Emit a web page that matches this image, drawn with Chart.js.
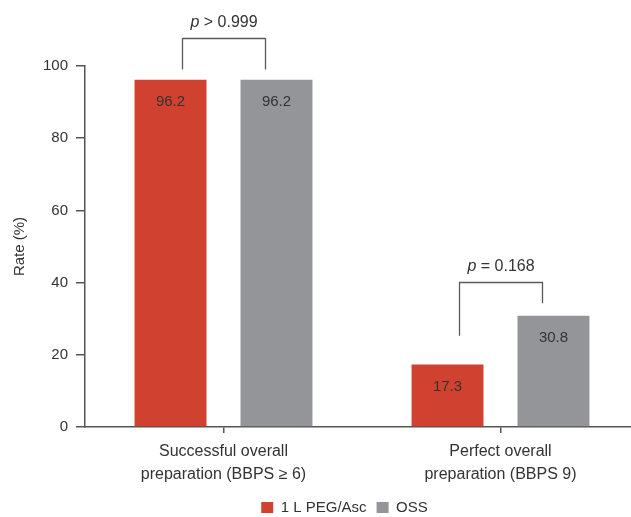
<!DOCTYPE html>
<html>
<head>
<meta charset="utf-8">
<script src="https://cdn.jsdelivr.net/npm/chart.js@4/dist/chart.umd.min.js"></script>
<style>
  html, body { margin: 0; padding: 0; background: #fff; overflow: hidden; }
  #wrap { width: 631px; height: 517px; overflow: hidden; }
  #wrap canvas { display: block; }
</style>
</head>
<body>
<div id="wrap"><canvas id="c" width="640" height="517"></canvas></div>
<script>
// ---- data ----
const categories = [
  ['Successful overall', 'preparation (BBPS \u2265 6)'],
  ['Perfect overall', 'preparation (BBPS 9)']
];
const seriesNames = ['1 L PEG/Asc', 'OSS'];
const pegAscValues = [96.2, 17.3];
const ossValues = [96.2, 30.8];
const yTicks = [0, 20, 40, 60, 80, 100];
const pPrefix = ['p', 'p'];
const pRest = [' > 0.999', ' = 0.168'];
// bracket levels (in rate units)
const bracketTop = [107.8, 40.2];
const bracketLeftEnd = [99.0, 25.3];
const bracketRightEnd = [99.0, 34.3];

const RED = '#D0422F';
const GRAY = '#939598';
const AXIS = '#555555';
const TEXT = '#333333';
const FONT = "'Liberation Sans', Arial, sans-serif";

const valueLabels = {
  id: 'valueLabels',
  afterDatasetsDraw(chart) {
    const ctx = chart.ctx;
    ctx.save();
    ctx.font = '15px ' + FONT;
    ctx.fillStyle = TEXT;
    ctx.textAlign = 'center';
    ctx.textBaseline = 'middle';
    chart.data.datasets.forEach((ds, di) => {
      chart.getDatasetMeta(di).data.forEach((bar, i) => {
        ctx.fillText(ds.data[i].toFixed(1), bar.x, bar.y + 22);
      });
    });
    ctx.restore();
  }
};

const brackets = {
  id: 'brackets',
  afterDraw(chart) {
    const ctx = chart.ctx;
    const ys = chart.scales.y;
    const m0 = chart.getDatasetMeta(0).data;
    const m1 = chart.getDatasetMeta(1).data;
    ctx.save();
    ctx.strokeStyle = '#5a5a5a';
    ctx.lineWidth = 1.3;
    categories.forEach((c, i) => {
      const xl = Math.round(m0[i].x + 11) + 0.5;
      const xr = Math.round(m1[i].x - 11) + 0.5;
      const yt = Math.round(ys.getPixelForValue(bracketTop[i])) + 0.5;
      ctx.beginPath();
      ctx.moveTo(xl, ys.getPixelForValue(bracketLeftEnd[i]));
      ctx.lineTo(xl, yt);
      ctx.lineTo(xr, yt);
      ctx.lineTo(xr, ys.getPixelForValue(bracketRightEnd[i]));
      ctx.stroke();
      // p-value text
      const cx = (xl + xr) / 2;
      const ty = yt - 16;
      ctx.textBaseline = 'middle';
      ctx.fillStyle = TEXT;
      const fItal = 'italic 16px ' + FONT;
      const fNorm = '16px ' + FONT;
      ctx.font = fItal;
      const w1 = ctx.measureText(pPrefix[i]).width;
      ctx.font = fNorm;
      const w2 = ctx.measureText(pRest[i]).width;
      const sx = cx - (w1 + w2) / 2;
      ctx.textAlign = 'left';
      ctx.font = fItal;
      ctx.fillText(pPrefix[i], sx, ty);
      ctx.font = fNorm;
      ctx.fillText(pRest[i], sx + w1, ty);
    });
    ctx.restore();
  }
};

const legendShift = {
  id: 'legendShift',
  afterLayout(chart) {
    const lg = chart.legend;
    if (!lg) return;
    lg.left += 25; lg.right += 25;
    lg.top += 8; lg.bottom += 8;
  }
};

new Chart(document.getElementById('c'), {
  type: 'bar',
  data: {
    labels: categories,
    datasets: [
      { label: seriesNames[0], data: pegAscValues, backgroundColor: RED },
      { label: seriesNames[1], data: ossValues, backgroundColor: GRAY }
    ]
  },
  options: {
    responsive: false,
    animation: false,
    devicePixelRatio: 1,
    categoryPercentage: 0.765,
    barPercentage: 0.679,
    layout: { padding: { top: 66, right: 1, left: 0, bottom: 0 } },
    plugins: {
      tooltip: { enabled: false },
      legend: {
        position: 'bottom',
        labels: {
          boxWidth: 12, boxHeight: 11, padding: 10,
          color: TEXT,
          font: { family: FONT, size: 15 }
        }
      }
    },
    scales: {
      x: {
        offset: true,
        afterFit(s) { s.height = 55; },
        grid: { display: true, drawOnChartArea: false, offset: false, tickLength: 6, color: AXIS, lineWidth: 1.5 },
        border: { display: true, color: AXIS, width: 1.5 },
        ticks: { color: TEXT, padding: 7, font: { family: FONT, size: 16, lineHeight: 1.45 } }
      },
      y: {
        min: 0, max: 100,
        afterFit(s) { s.width = 85; },
        afterBuildTicks(s) { s.ticks = yTicks.map(v => ({ value: v })); },
        grid: { display: true, drawOnChartArea: false, tickLength: 9, color: AXIS, lineWidth: 1.5 },
        border: { display: true, color: AXIS, width: 1.5 },
        ticks: { color: TEXT, padding: 8, font: { family: FONT, size: 15 } },
        title: { display: true, text: 'Rate (%)', color: TEXT, padding: { top: 11, bottom: 0 }, font: { family: FONT, size: 15 } }
      }
    }
  },
  plugins: [valueLabels, brackets, legendShift]
});
</script>
</body>
</html>
